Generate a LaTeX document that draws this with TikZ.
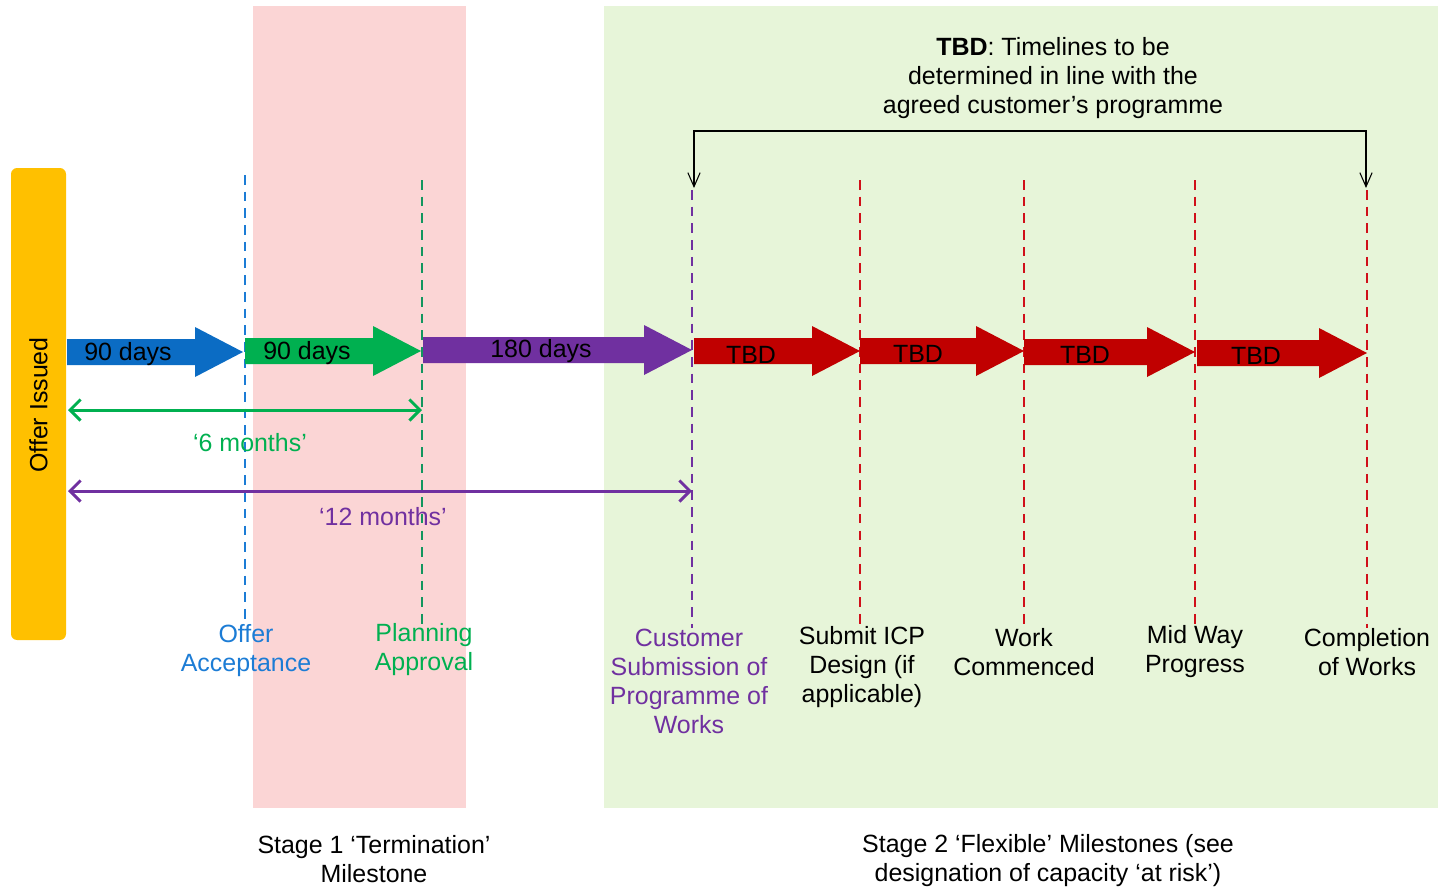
\documentclass[tikz,border=0pt]{standalone}
\usepackage{fontspec}
\setmainfont{Liberation Sans}
\usetikzlibrary{arrows.meta}
\definecolor{offeryellow}{HTML}{FFC000}
\definecolor{stageblue}{HTML}{0B6CC4}
\definecolor{textblue}{HTML}{1C7CD5}
\definecolor{stagegreen}{HTML}{00B050}
\definecolor{dashgreen}{HTML}{12965E}
\definecolor{stagepurple}{HTML}{7030A0}
\definecolor{stagered}{HTML}{C00000}
\definecolor{dashred}{HTML}{D0101A}
\definecolor{pinkzone}{HTML}{FBD5D5}
\definecolor{greenzone}{HTML}{E7F5D9}
\def\blockarrow[#1](#2,#3)(#4){\fill[#1] (#2,#3-13) -- (#4-48,#3-13) -- (#4-48,#3-25) -- (#4,#3) -- (#4-48,#3+25) -- (#4-48,#3+13) -- (#2,#3+13) -- cycle;}

\begin{document}
\begin{tikzpicture}[x=0.02cm, y=-0.02cm,
    milestone/.style={dash pattern=on 5.5pt off 4pt, line width=1.3pt},
    span/.style={<->, >={Straight Barb[length=6pt,width=12pt]}, line width=1.7pt},
    lbl/.style={align=center, font=\fontsize{14.2}{16.5}\selectfont, inner sep=0pt},
    days/.style={font=\fontsize{14.2}{16.5}\selectfont, inner sep=0pt}]
			%%%%% START %%%%%
			\useasboundingbox (0, 0) rectangle (1438, 890);
			
			% stage zones
			\fill[pinkzone] (253, 6) rectangle (466, 808);
			\fill[greenzone] (604, 6) rectangle (1438, 808);
			
			% offer issued bar
			\fill[offeryellow, rounded corners=3.5pt] (11, 168) rectangle (66, 640);
			\node[lbl, rotate=90] (offer) at (38.5, 405) {Offer Issued};
			
			% milestone labels
			\node[lbl, text=textblue] (acc) at (246, 651) {Offer\\Acceptance};
			\node[lbl, text=stagegreen] (plan) at (424, 650) {Planning\\Approval};
			\node[lbl, text=stagepurple] (cust) at (689, 681) {Customer\\Submission of\\Programme of\\Works};
			\node[lbl] (icp) at (862, 667) {Submit ICP\\Design (if\\applicable)};
			\node[lbl] (work) at (1024, 652) {Work\\Commenced};
			\node[lbl] (mid) at (1195, 652) {Mid Way\\Progress};
			\node[lbl] (done) at (1367, 652) {Completion\\of Works};
			
			% milestone lines
			\coordinate (accTop) at (245, 175);
			\coordinate (planTop) at (422, 180);
			\coordinate (custTop) at (692, 190);
			\coordinate (icpTop) at (860, 180);
			\coordinate (workTop) at (1024, 180);
			\coordinate (midTop) at (1195, 180);
			\coordinate (doneTop) at (1367, 190);
			\draw[milestone, color=textblue] (accTop) -- (accTop |- acc.north);
			\draw[milestone, color=dashgreen] (planTop) -- (planTop |- plan.north);
			\draw[milestone, color=stagepurple] (custTop) -- (custTop |- cust.north);
			\draw[milestone, color=dashred] (icpTop) -- (icpTop |- icp.north);
			\draw[milestone, color=dashred] (workTop) -- (workTop |- work.north);
			\draw[milestone, color=dashred] (midTop) -- (midTop |- mid.north);
			\draw[milestone, color=dashred] (doneTop) -- (doneTop |- done.north);
			
			% block arrows
			\blockarrow[stageblue](67, 352)(243);
			\blockarrow[stagegreen](245, 351)(421);
			\blockarrow[stagepurple](423, 350)(692);
			\blockarrow[stagered](694, 351)(860);
			\blockarrow[stagered](860, 351)(1024);
			\blockarrow[stagered](1024, 352)(1195);
			\blockarrow[stagered](1197, 353)(1367);
			\node[days] (d1) at (128, 354) {90 days};
			\node[days] (d2) at (307, 353) {90 days};
			\node[days] (d3) at (541, 351) {180 days};
			\node[days] (t1) at (751, 355) {TBD};
			\node[days] (t2) at (918, 354) {TBD};
			\node[days] (t3) at (1085, 355) {TBD};
			\node[days] (t4) at (1256, 356) {TBD};
			
			% durations
			\coordinate (sixL) at (68, 410);
			\coordinate (twelveL) at (68, 491);
			\draw[span, color=stagegreen] (sixL) -- (sixL -| planTop);
			\node[lbl, text=stagegreen] (six) at (250, 443) {‘6 months’};
			\draw[span, color=stagepurple] (twelveL) -- (twelveL -| custTop);
			\node[lbl, text=stagepurple] (twelve) at (383, 517) {‘12 months’};
			
			% TBD bracket
			\node[lbl] (note) at (1053, 78) {\textbf{TBD}: Timelines to be\\determined in line with the\\agreed customer’s programme};
			\draw[<->, >={Straight Barb[length=8pt,width=7pt]}, line width=0.6pt] (694, 188) -- (694, 131) -- (1366, 131) -- (1366, 188);
			
			% stage captions
			\node[lbl] (stage1) at (374, 859) {Stage 1 ‘Termination’\\Milestone};
			\node[lbl] (stage2) at (1048, 861) {Stage 2 ‘Flexible’ Milestones (see\\designation of capacity ‘at risk’)};
			
			%%%%% END %%%%%
		\end{tikzpicture}
\end{document}
